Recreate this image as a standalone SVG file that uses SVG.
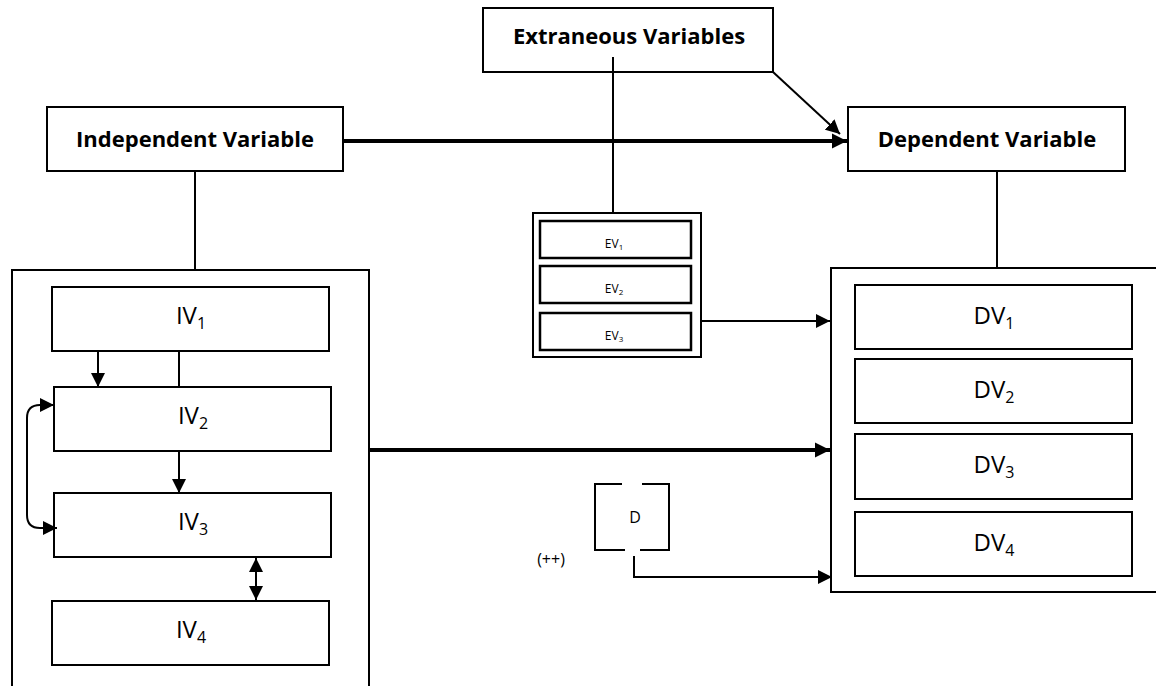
<svg xmlns="http://www.w3.org/2000/svg" width="1156" height="686" viewBox="0 0 1156 686">
<style>
.box{fill:#fff;stroke:#000;stroke-width:2}
.ev{fill:#fff;stroke:#000;stroke-width:2.5}
.t{font-family:"Open Sans","Liberation Sans",sans-serif;fill:#000;text-anchor:middle}
.h{font-weight:bold;font-size:22px}
.m{font-size:24px}
.s{font-size:12px}
.d{font-size:16px}
.ln{fill:none;stroke:#000;stroke-width:2}
.thk{fill:none;stroke:#000;stroke-width:4}
</style>
<defs>
<marker id="ah" viewBox="0 0 10 10" refX="10" refY="5" markerWidth="7" markerHeight="7" orient="auto-start-reverse" markerUnits="strokeWidth"><path d="M0,0L10,5L0,10z" fill="#000"/></marker>
<marker id="ahs" viewBox="0 0 10 10" refX="10" refY="5" markerWidth="3.8" markerHeight="3.8" orient="auto-start-reverse" markerUnits="strokeWidth"><path d="M0,0L10,5L0,10z" fill="#000"/></marker>
</defs>
<g id="extraneous">
<rect class="box" x="483" y="8" width="290" height="64"/>
<text class="t h" x="629" y="44">Extraneous Variables</text>
</g>
<g id="independent">
<rect class="box" x="47" y="107" width="296" height="64"/>
<text class="t h" x="195" y="147">Independent Variable</text>
</g>
<g id="dependent">
<rect class="box" x="848" y="107" width="277" height="64"/>
<text class="t h" x="987" y="147">Dependent Variable</text>
</g>
<g id="iv-group">
<path class="ln" d="M12,686 L12,270 L369,270 L369,686"/>
</g>
<g id="iv1"><rect class="box" x="52" y="287" width="277" height="64"/><text class="t m" x="191" y="324">IV<tspan font-size="16" dy="5">1</tspan></text></g>
<g id="iv2"><rect class="box" x="54" y="387" width="277" height="64"/><text class="t m" x="193" y="424">IV<tspan font-size="16" dy="5">2</tspan></text></g>
<g id="iv3"><rect class="box" x="54" y="493" width="277" height="64"/><text class="t m" x="193" y="530">IV<tspan font-size="16" dy="5">3</tspan></text></g>
<g id="iv4"><rect class="box" x="52" y="601" width="277" height="64"/><text class="t m" x="191" y="638">IV<tspan font-size="16" dy="5">4</tspan></text></g>
<g id="ev-group">
<rect class="box" x="533" y="213" width="168" height="144"/>
</g>
<g id="ev1"><rect class="ev" x="540" y="221" width="151" height="37"/><text class="t s" x="614" y="248">EV<tspan font-size="8" dy="2">1</tspan></text></g>
<g id="ev2"><rect class="ev" x="540" y="266" width="151" height="37"/><text class="t s" x="614" y="293">EV<tspan font-size="8" dy="2">2</tspan></text></g>
<g id="ev3"><rect class="ev" x="540" y="313" width="151" height="37"/><text class="t s" x="614" y="340">EV<tspan font-size="8" dy="2">3</tspan></text></g>
<g id="dv-group">
<path class="ln" d="M1157,268 L831,268 L831,592 L1157,592"/>
</g>
<g id="dv1"><rect class="box" x="855" y="285" width="277" height="64"/><text class="t m" x="994" y="324">DV<tspan font-size="16" dy="5">1</tspan></text></g>
<g id="dv2"><rect class="box" x="855" y="359" width="277" height="64"/><text class="t m" x="994" y="398">DV<tspan font-size="16" dy="5">2</tspan></text></g>
<g id="dv3"><rect class="box" x="855" y="434" width="277" height="65"/><text class="t m" x="994" y="473">DV<tspan font-size="16" dy="5">3</tspan></text></g>
<g id="dv4"><rect class="box" x="855" y="512" width="277" height="64"/><text class="t m" x="994" y="551">DV<tspan font-size="16" dy="5">4</tspan></text></g>
<g id="d-bracket">
<path class="ln" d="M622,484 L595,484 L595,550 L625,550 M642,484 L669,484 L669,550 L640,550"/>
<text class="t d" x="635" y="523">D</text>
</g>
<g id="plusplus"><text class="t d" x="551" y="565">(++)</text></g>
<g id="connectors">
<line class="ln" x1="613" y1="57" x2="613" y2="213"/>
<line class="ln" x1="773" y1="72" x2="840" y2="134" marker-end="url(#ah)"/>
<line class="thk" x1="344" y1="141" x2="847" y2="141" marker-end="url(#ahs)"/>
<line class="ln" x1="195" y1="172" x2="195" y2="270"/>
<line class="ln" x1="997" y1="172" x2="997" y2="268"/>
<line class="ln" x1="98" y1="352" x2="98" y2="387" marker-end="url(#ah)"/>
<line class="ln" x1="179" y1="352" x2="179" y2="387"/>
<line class="ln" x1="179" y1="452" x2="179" y2="493" marker-end="url(#ah)"/>
<line class="ln" x1="256" y1="558" x2="256" y2="600" marker-start="url(#ah)" marker-end="url(#ah)"/>
<path class="ln" d="M54,405 L40,405 Q27,405 27,418 L27,515 Q27,528 40,528 L57,528" marker-start="url(#ah)" marker-end="url(#ah)"/>
<line class="thk" x1="370" y1="450" x2="830" y2="450" marker-end="url(#ahs)"/>
<line class="ln" x1="702" y1="321" x2="830" y2="321" marker-end="url(#ah)"/>
<polyline class="ln" points="634,556 634,577 832,577" marker-end="url(#ah)"/>
</g>
</svg>
